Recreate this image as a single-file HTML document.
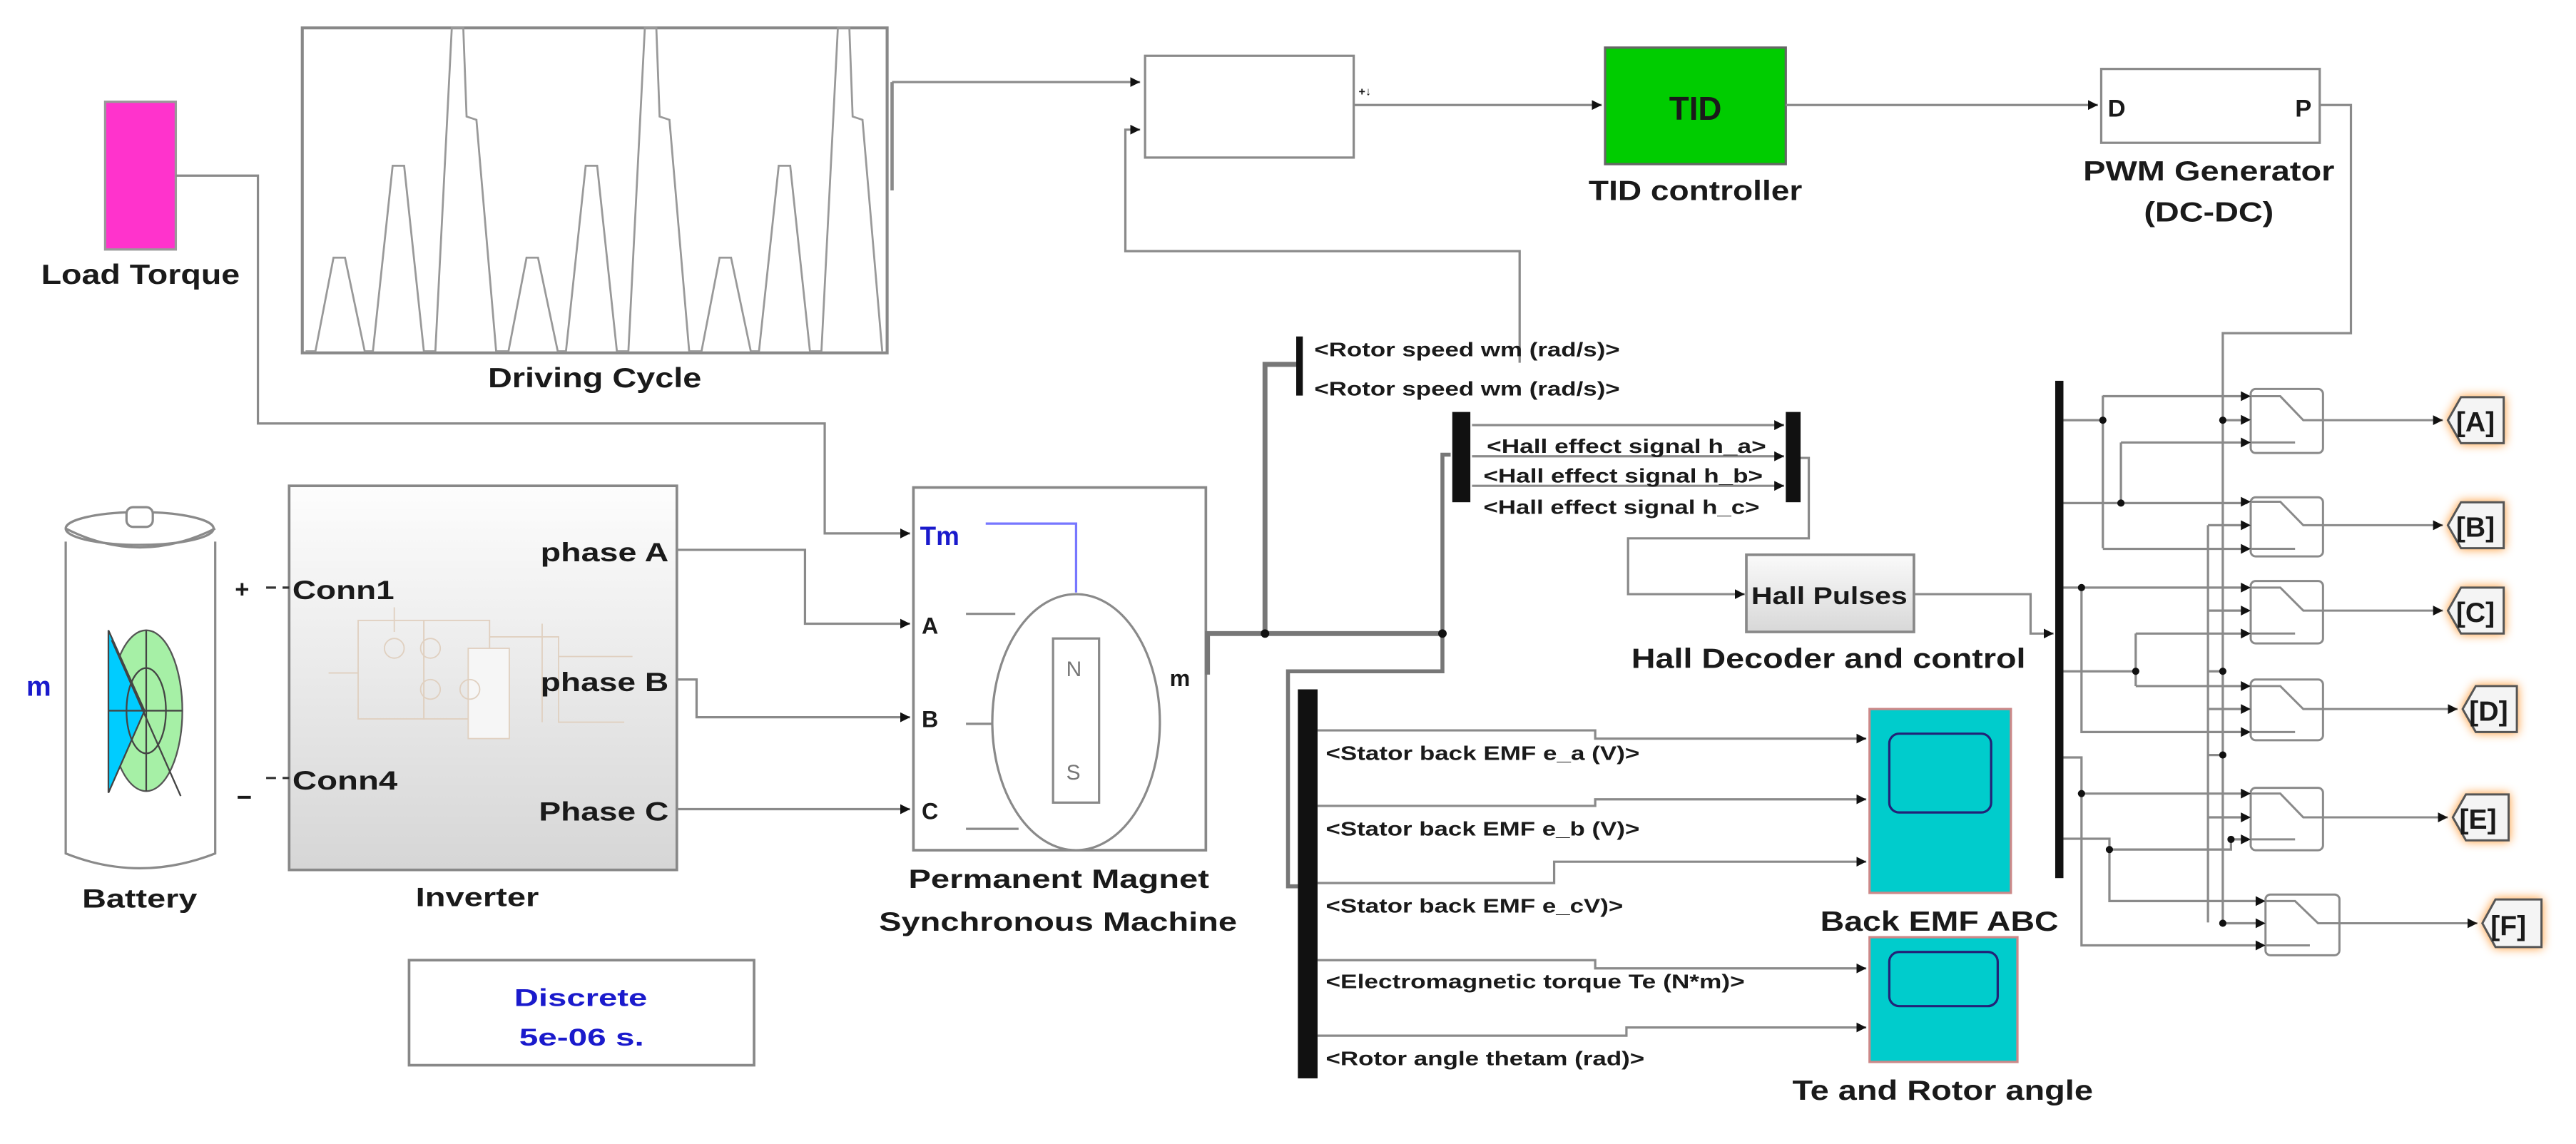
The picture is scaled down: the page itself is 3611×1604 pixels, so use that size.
<!DOCTYPE html>
<html><head><meta charset="utf-8"><style>
html,body{margin:0;padding:0;background:#fff;}
svg{display:block;}
text{font-family:"Liberation Sans",Arial,sans-serif;font-weight:bold;fill:#1a1a1a;}
</style></head><body>
<svg width="3611" height="1604" viewBox="0 0 1568 697" preserveAspectRatio="none" xmlns="http://www.w3.org/2000/svg">
<defs>
<marker id="ar" markerUnits="userSpaceOnUse" markerWidth="7" markerHeight="7" refX="6" refY="3" orient="auto"><path d="M0,0 L6,3 L0,6 z" fill="#111"/></marker>
<linearGradient id="inv" x1="0" y1="0" x2="0" y2="1"><stop offset="0" stop-color="#fdfdfd"/><stop offset="1" stop-color="#d6d6d6"/></linearGradient>
<linearGradient id="hp" x1="0" y1="0" x2="0" y2="1"><stop offset="0" stop-color="#fafafa"/><stop offset="1" stop-color="#d8d8d8"/></linearGradient>
</defs>
<rect width="1568" height="697" fill="#fff"/>

<g fill="none" stroke="#8a8a8a" stroke-width="1.4">
<!-- load torque -->
<rect x="64" y="62" width="43" height="90" fill="#ff33cc" stroke="#999"/>
<path d="M107,107 H157 V258 H502 V325 H554" marker-end="url(#ar)"/>
<!-- driving cycle -->
<rect x="184" y="17" width="356" height="198" fill="#fff" stroke="#888" stroke-width="1.8"/>
<polyline stroke="#999" stroke-width="1.2" points="186,214 192,214 203,157 210,157 222,214 227,214 239,101 246,101 258,214 265,214 275,17 282,17 284,71 290,73 302,214 309.5,214 320.5,157 327.5,157 339.5,214 344.5,214 356.5,101 363.5,101 375.5,214 382.5,214 392.5,17 399.5,17 401.5,71 407.5,73 419.5,214 427,214 438,157 445,157 457,214 462,214 474,101 481,101 493,214 500,214 510,17 517,17 519,71 525,73 537,214"/>
<path d="M543,50 V116" stroke-width="2"/>
<path d="M543,50 H694" marker-end="url(#ar)"/>
<!-- sum -->
<rect x="697" y="34" width="127" height="62" fill="#fff"/>
<path d="M925,221 V153 H685 V79 H694" marker-end="url(#ar)"/>
<path d="M824,64 H975" marker-end="url(#ar)"/>
<!-- TID -->
<rect x="977" y="29" width="110" height="71" fill="#00cc00" stroke="#666"/>
<path d="M1087,64 H1277" marker-end="url(#ar)"/>
<rect x="1279" y="42" width="133" height="45" fill="#fff"/>
<path d="M1412,64 H1431 V203 H1353 V562"/>
<path d="M1344,320 V562"/>

<!-- battery -->
<path d="M40,330 V520 Q85,538 131,520 V330" fill="#fff"/>
<ellipse cx="85" cy="322" rx="45" ry="10" fill="#fff"/>
<path d="M40,322 Q85,345 131,322"/>
<rect x="77" y="309" width="16" height="12" rx="4" fill="#fff"/>
<ellipse cx="89" cy="433" rx="22" ry="49" fill="#a6f0a6" stroke="#555" stroke-width="1"/>
<path d="M66,384 L88,433 L66,483 z" fill="#00ccff" stroke="#444" stroke-width="1"/>
<ellipse cx="89" cy="433" rx="12" ry="26" stroke="#444" stroke-width="1"/>
<path d="M66,433 H111 M89,384 V482 M68,390 L110,485" stroke="#444" stroke-width="1"/>
<!-- inverter -->
<rect x="176" y="296" width="236" height="234" fill="url(#inv)" stroke="#888" stroke-width="1.6"/>
<g stroke="#e0d0c0" stroke-width="0.8">
<rect x="218" y="378" width="40" height="60"/><rect x="258" y="378" width="40" height="60"/><rect x="285" y="395" width="25" height="55" fill="#f6f6f6"/>
<path d="M200,410 H218 M298,388 H340 V440 H380 M330,380 V440 M240,370 V385 M340,400 H385"/>
<circle cx="240" cy="395" r="6"/><circle cx="262" cy="395" r="6"/><circle cx="262" cy="420" r="6"/><circle cx="286" cy="420" r="6"/>
</g>
<path d="M172,358 H176 M162,358 H168 M172,474 H176 M162,474 H168" stroke="#333"/>
<path d="M412,335 H490 V380 H554" marker-end="url(#ar)"/>
<path d="M412,414 H424 V437 H554" marker-end="url(#ar)"/>
<path d="M412,493 H554" marker-end="url(#ar)"/>
<!-- discrete -->
<rect x="249" y="585" width="210" height="64" fill="#fff" stroke="#888" stroke-width="1.6"/>
<!-- PMSM -->
<rect x="556" y="297" width="178" height="221" fill="#fff" stroke="#888" stroke-width="1.6"/>
<ellipse cx="655" cy="440" rx="51" ry="78" fill="#fff"/>
<rect x="641" y="389" width="28" height="100"/>
<path d="M600,319 H655 V361" stroke="#7777ff"/>
<path d="M588,374 H618 M588,441 H604 M588,505 H620"/>
<path d="M735,411 V386 H878 M770,386 V222 H789" stroke="#777" stroke-width="3"/>
<path d="M878,386 V277 H883 M878,386 V409 H784 V540 H790" stroke="#777" stroke-width="2.4"/>
<!-- rotor speed bar -->
<rect x="789" y="205" width="4" height="36" fill="#111" stroke="none"/>
<!-- hall demux -->
<rect x="884" y="251" width="11" height="55" fill="#111" stroke="none"/>
<rect x="1087" y="251" width="9" height="55" fill="#111" stroke="none"/>
<path d="M896,259 H1086" marker-end="url(#ar)"/>
<path d="M896,278 H1086" marker-end="url(#ar)"/>
<path d="M896,296 H1086" marker-end="url(#ar)"/>
<path d="M1096,279 H1101 V328 H991 V362 H1062" marker-end="url(#ar)"/>
<rect x="1063" y="338" width="102" height="47" fill="url(#hp)" stroke="#888" stroke-width="1.6"/>
<path d="M1165,362 H1236 V386 H1250" marker-end="url(#ar)"/>
<!-- stator demux -->
<rect x="790" y="420" width="12" height="237" fill="#111" stroke="none"/>
<path d="M802,445 H971 V450 H1136" marker-end="url(#ar)"/>
<path d="M802,491 H971 V487 H1136" marker-end="url(#ar)"/>
<path d="M802,538 H946 V525 H1136" marker-end="url(#ar)"/>
<path d="M802,585 H971 V590 H1136" marker-end="url(#ar)"/>
<path d="M802,631 H990 V626 H1136" marker-end="url(#ar)"/>
<rect x="1138" y="432" width="86" height="112" fill="#00cccc" stroke="#c88"/>
<rect x="1150" y="447" width="62" height="48" rx="6" fill="#00cccc" stroke="#227"/>
<rect x="1138" y="571" width="90" height="76" fill="#00cccc" stroke="#c88"/>
<rect x="1150" y="580" width="66" height="33" rx="6" fill="#00cccc" stroke="#227"/>
<!-- big bus -->
<rect x="1251" y="232" width="5" height="303" fill="#111" stroke="none"/>
<!-- switch wiring -->
<path d="M1256,256 H1280 M1280,241 V334 M1280,241.4 H1368 M1280,334.4 H1368"/>
<path d="M1256,306.5 H1368 M1291,269.6 V306.5 M1291,269.6 H1368"/>
<path d="M1353,256 H1368 M1344,320 H1368 M1344,372 H1368 M1344,432 H1368 M1344,498 H1368 M1353,562.5 H1377 M1344,409 H1353 M1344,460 H1353"/>
<path d="M1256,358 H1368 M1267,358 V446 H1368"/>
<path d="M1256,409 H1300 M1300,386 V418 M1300,386 H1368 M1300,418 H1368"/>
<path d="M1256,461.5 H1267 V576 H1377 M1267,483.5 H1368"/>
<path d="M1256,511 H1284 V549 H1377 M1284,517.6 H1358 V511.4 H1368"/>
</g>
<g fill="#111">
<circle cx="1280" cy="256" r="2.2"/><circle cx="1291" cy="306.5" r="2.2"/><circle cx="1353" cy="256" r="2.2"/><circle cx="1267" cy="358" r="2.2"/><circle cx="1300" cy="409" r="2.2"/><circle cx="1267" cy="483.5" r="2.2"/><circle cx="1284" cy="517.6" r="2.2"/><circle cx="1353" cy="409" r="2.2"/><circle cx="1353" cy="460" r="2.2"/><circle cx="1353" cy="562.5" r="2.2"/><circle cx="1358" cy="511.4" r="2.2"/>
<circle cx="770" cy="386" r="2.6"/><circle cx="878" cy="386" r="2.6"/>
</g>
<!-- switches -->
<g id="sw" fill="none" stroke="#8a8a8a" stroke-width="1.3">
<rect x="1370" y="237" width="44" height="39" rx="3" fill="#fff"/>
<path d="M1370,241.4 H1388 L1402,256 H1414 M1370,269.6 H1397"/>
<path d="M1414,256 H1487" marker-end="url(#ar)"/>
<rect x="1370" y="303" width="44" height="36" rx="3" fill="#fff"/>
<path d="M1370,305.7 H1388 L1402,320 H1414 M1370,334.4 H1397"/>
<path d="M1414,320 H1487" marker-end="url(#ar)"/>
<rect x="1370" y="354" width="44" height="38" rx="3" fill="#fff"/>
<path d="M1370,358 H1388 L1402,372 H1414 M1370,386 H1397"/>
<path d="M1414,372 H1487" marker-end="url(#ar)"/>
<rect x="1370" y="414" width="44" height="37" rx="3" fill="#fff"/>
<path d="M1370,418 H1388 L1402,432 H1414 M1370,446 H1397"/>
<path d="M1414,432 H1496" marker-end="url(#ar)"/>
<rect x="1370" y="480" width="44" height="38" rx="3" fill="#fff"/>
<path d="M1370,483.5 H1388 L1402,498 H1414 M1370,511.4 H1397"/>
<path d="M1414,498 H1490" marker-end="url(#ar)"/>
<rect x="1379" y="545" width="45" height="37" rx="3" fill="#fff"/>
<path d="M1379,549 H1397 L1411,562.5 H1424 M1379,576 H1406"/>
<path d="M1424,562.5 H1508" marker-end="url(#ar)"/>
</g>
<g fill="#111">
<path d="M1364,238.4 l6,3 l-6,3z M1364,252.8 l6,3 l-6,3z M1364,266.6 l6,3 l-6,3z M1364,302.7 l6,3 l-6,3z M1364,317 l6,3 l-6,3z M1364,331.4 l6,3 l-6,3z M1364,355 l6,3 l-6,3z M1364,369 l6,3 l-6,3z M1364,383 l6,3 l-6,3z M1364,415 l6,3 l-6,3z M1364,429 l6,3 l-6,3z M1364,443 l6,3 l-6,3z M1364,480.5 l6,3 l-6,3z M1364,495 l6,3 l-6,3z M1364,508.4 l6,3 l-6,3z M1373,546 l6,3 l-6,3z M1373,559.5 l6,3 l-6,3z M1373,573 l6,3 l-6,3z"/>
</g>
<!-- goto tags -->
<g fill="#f4f4f4" stroke="#555" stroke-width="1.3" style="filter:drop-shadow(0 0 3px #ff9933)">
<path d="M1490,256 L1498,242 H1524 V270 H1498 z"/>
<path d="M1490,320 L1498,306 H1524 V334 H1498 z"/>
<path d="M1490,372 L1498,358 H1524 V386 H1498 z"/>
<path d="M1499,432 L1507,418 H1532 V446 H1507 z"/>
<path d="M1493,498 L1501,484 H1527 V512 H1501 z"/>
<path d="M1511,562.5 L1519,548 H1547 V577 H1519 z"/>
</g>

<!-- text -->
<text x="25" y="173" font-size="17" textLength="121" lengthAdjust="spacingAndGlyphs">Load Torque</text>
<text x="297" y="236" font-size="17" textLength="130" lengthAdjust="spacingAndGlyphs">Driving Cycle</text>
<text x="1016" y="73" font-size="20" textLength="32" lengthAdjust="spacingAndGlyphs">TID</text>
<text x="967" y="122" font-size="17" textLength="130" lengthAdjust="spacingAndGlyphs">TID controller</text>
<text x="1268" y="110" font-size="17" textLength="153" lengthAdjust="spacingAndGlyphs">PWM Generator</text>
<text x="1305" y="135" font-size="17" textLength="79" lengthAdjust="spacingAndGlyphs">(DC-DC)</text>
<text x="1283" y="71" font-size="15">D</text>
<text x="1397" y="71" font-size="15">P</text>
<text x="827" y="58" font-size="7">+↓</text>
<text x="800" y="217" font-size="12" textLength="186" lengthAdjust="spacingAndGlyphs">&lt;Rotor speed wm (rad/s)&gt;</text>
<text x="800" y="241" font-size="12" textLength="186" lengthAdjust="spacingAndGlyphs">&lt;Rotor speed wm (rad/s)&gt;</text>
<text x="905" y="276" font-size="12" textLength="170" lengthAdjust="spacingAndGlyphs">&lt;Hall effect signal h_a&gt;</text>
<text x="903" y="294" font-size="12" textLength="170" lengthAdjust="spacingAndGlyphs">&lt;Hall effect signal h_b&gt;</text>
<text x="903" y="313" font-size="12" textLength="168" lengthAdjust="spacingAndGlyphs">&lt;Hall effect signal h_c&gt;</text>
<text x="1066" y="368" font-size="15" textLength="95" lengthAdjust="spacingAndGlyphs">Hall Pulses</text>
<text x="993" y="407" font-size="17" textLength="240" lengthAdjust="spacingAndGlyphs">Hall Decoder and control</text>
<text x="807" y="463" font-size="12" textLength="191" lengthAdjust="spacingAndGlyphs">&lt;Stator back EMF e_a (V)&gt;</text>
<text x="807" y="509" font-size="12" textLength="191" lengthAdjust="spacingAndGlyphs">&lt;Stator back EMF e_b (V)&gt;</text>
<text x="807" y="556" font-size="12" textLength="181" lengthAdjust="spacingAndGlyphs">&lt;Stator back EMF e_cV)&gt;</text>
<text x="807" y="602" font-size="12" textLength="255" lengthAdjust="spacingAndGlyphs">&lt;Electromagnetic torque Te (N*m)&gt;</text>
<text x="807" y="649" font-size="12" textLength="194" lengthAdjust="spacingAndGlyphs">&lt;Rotor angle thetam (rad)&gt;</text>
<text x="1108" y="567" font-size="17" textLength="145" lengthAdjust="spacingAndGlyphs">Back EMF ABC</text>
<text x="1091" y="670" font-size="17" textLength="183" lengthAdjust="spacingAndGlyphs">Te and Rotor angle</text>
<text x="1495" y="263" font-size="17">[A]</text>
<text x="1495" y="327" font-size="17">[B]</text>
<text x="1495" y="379" font-size="17">[C]</text>
<text x="1503" y="439" font-size="17">[D]</text>
<text x="1497" y="505" font-size="17">[E]</text>
<text x="1516" y="570" font-size="17">[F]</text>
<text x="50" y="553" font-size="16" textLength="70" lengthAdjust="spacingAndGlyphs">Battery</text>
<text x="253" y="552" font-size="16" textLength="75" lengthAdjust="spacingAndGlyphs">Inverter</text>
<text x="553" y="541" font-size="16" textLength="183" lengthAdjust="spacingAndGlyphs">Permanent Magnet</text>
<text x="535" y="567" font-size="16" textLength="218" lengthAdjust="spacingAndGlyphs">Synchronous Machine</text>
<text x="329" y="342" font-size="16" textLength="78" lengthAdjust="spacingAndGlyphs">phase A</text>
<text x="329" y="421" font-size="16" textLength="78" lengthAdjust="spacingAndGlyphs">phase B</text>
<text x="328" y="500" font-size="16" textLength="79" lengthAdjust="spacingAndGlyphs">Phase C</text>
<text x="178" y="365" font-size="16" textLength="62" lengthAdjust="spacingAndGlyphs">Conn1</text>
<text x="178" y="481" font-size="16" textLength="64" lengthAdjust="spacingAndGlyphs">Conn4</text>
<text x="143" y="364" font-size="15">+</text>
<text x="144" y="491" font-size="16">−</text>
<text x="560" y="332" font-size="16" fill="#1a1acc" style="fill:#1a1acc">Tm</text>
<text x="561" y="386" font-size="14">A</text>
<text x="561" y="443" font-size="14">B</text>
<text x="561" y="499" font-size="14">C</text>
<text x="712" y="418" font-size="14">m</text>
<text x="649" y="412" font-size="13" style="font-weight:normal;fill:#777">N</text>
<text x="649" y="475" font-size="13" style="font-weight:normal;fill:#777">S</text>
<text x="16" y="424" font-size="17" style="fill:#1a1acc">m</text>
<text x="313" y="613" font-size="15" textLength="81" lengthAdjust="spacingAndGlyphs" style="fill:#1a1acc">Discrete</text>
<text x="316" y="637" font-size="15" textLength="76" lengthAdjust="spacingAndGlyphs" style="fill:#1a1acc">5e-06 s.</text>
</svg>
</body></html>
